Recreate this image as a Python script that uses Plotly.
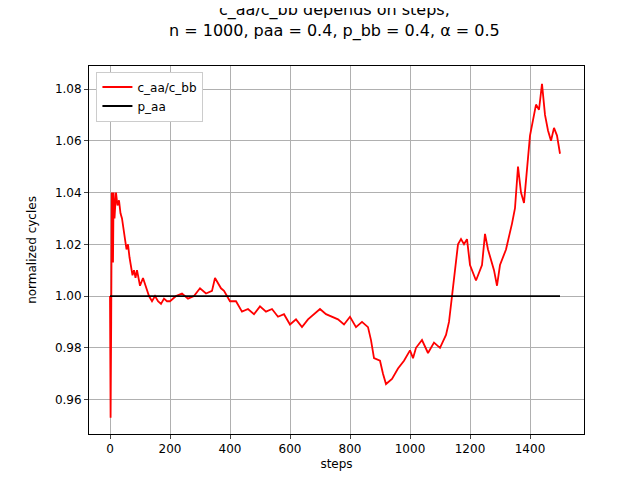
import plotly.graph_objs as go

steps = [0, 2, 4, 6, 8, 10, 12, 15, 20, 25, 30, 35, 40, 45, 50, 55, 60, 65, 70, 75, 80, 85, 90,
         100, 110, 120, 130, 140, 150, 160, 170, 180, 190, 200, 220, 240, 260, 280, 300, 320,
         340, 350, 360, 370, 380, 400, 420, 440, 460, 480, 500, 520, 540, 560, 580, 600, 620,
         640, 660, 680, 700, 720, 740, 760, 780, 800, 820, 840, 860, 870, 880, 900, 910, 920,
         940, 960, 980, 1000, 1010, 1020, 1040, 1060, 1080, 1100, 1120, 1130, 1140, 1150, 1160,
         1170, 1180, 1190, 1200, 1220, 1240, 1250, 1260, 1280, 1290, 1300, 1320, 1340, 1350,
         1360, 1370, 1380, 1390, 1400, 1410, 1420, 1430, 1440, 1450, 1460, 1470, 1480, 1490, 1500]
ratio = [1.0, 0.953, 0.99, 1.04, 1.02, 1.013, 1.04, 1.03, 1.04, 1.035, 1.037, 1.032, 1.03, 1.025,
         1.022, 1.018, 1.02, 1.015, 1.012, 1.008, 1.01, 1.007, 1.01, 1.004, 1.007, 1.003, 1.0,
         0.998, 1.0, 0.998, 0.997, 0.999, 0.998, 0.998, 1.0, 1.001, 0.999, 1.0, 1.003, 1.001,
         1.002, 1.007, 1.005, 1.003, 1.002, 0.998, 0.998, 0.994, 0.995, 0.993, 0.996, 0.994,
         0.995, 0.992, 0.993, 0.989, 0.991, 0.988, 0.991, 0.993, 0.995, 0.993, 0.992, 0.991,
         0.989, 0.992, 0.988, 0.990, 0.988, 0.983, 0.976, 0.975, 0.970, 0.966, 0.968, 0.972,
         0.975, 0.979, 0.976, 0.980, 0.983, 0.978, 0.982, 0.980, 0.985, 0.990, 1.000, 1.010,
         1.020, 1.022, 1.020, 1.022, 1.012, 1.006, 1.012, 1.024, 1.018, 1.010, 1.004, 1.012,
         1.018, 1.028, 1.034, 1.050, 1.040, 1.036, 1.050, 1.062, 1.068, 1.074, 1.072, 1.082,
         1.070, 1.064, 1.060, 1.065, 1.062, 1.055]
paa_x = [0, 1500]
paa_y = [1.0, 1.0]

trace = go.Scatter(x=steps, y=ratio, mode="lines", name="c_aa/c_bb",
                   line=dict(color="red", width=1.8))
trace2 = go.Scatter(x=paa_x, y=paa_y, mode="lines", name="p_aa",
                    line=dict(color="black", width=1.8))

axis = dict(showline=True, linecolor="black", mirror=True, showgrid=True,
            gridcolor="#b0b0b0", ticks="outside", ticklen=4, zeroline=False,
            tickfont=dict(size=12), automargin=False)
layout = go.Layout(
    title=dict(text="c_aa/c_bb depends on steps,<br>n = 1000, paa = 0.4, p_bb = 0.4, α = 0.5",
               x=0.51, y=0.985, yanchor="top", xanchor="center", font=dict(size=16)),
    width=640, height=480,
    margin=dict(l=81, r=64, t=58, b=54),
    plot_bgcolor="white", paper_bgcolor="white",
    font=dict(family="DejaVu Sans", color="black"),
    xaxis=dict(axis, title=dict(text="steps", font=dict(size=12), standoff=4), range=[-70, 1580],
               tickvals=[0, 200, 400, 600, 800, 1000, 1200, 1400]),
    yaxis=dict(axis, title=dict(text="normalized cycles", font=dict(size=12)),
               range=[0.9467, 1.0889], tickformat=".2f",
               tickvals=[0.96, 0.98, 1.0, 1.02, 1.04, 1.06, 1.08]),
    legend=dict(x=0.015, y=0.985, bordercolor="#cccccc", borderwidth=1,
                bgcolor="white", font=dict(size=12)),
)

fig = go.Figure(data=[trace, trace2], layout=layout)
fig.write_html("out.html")
